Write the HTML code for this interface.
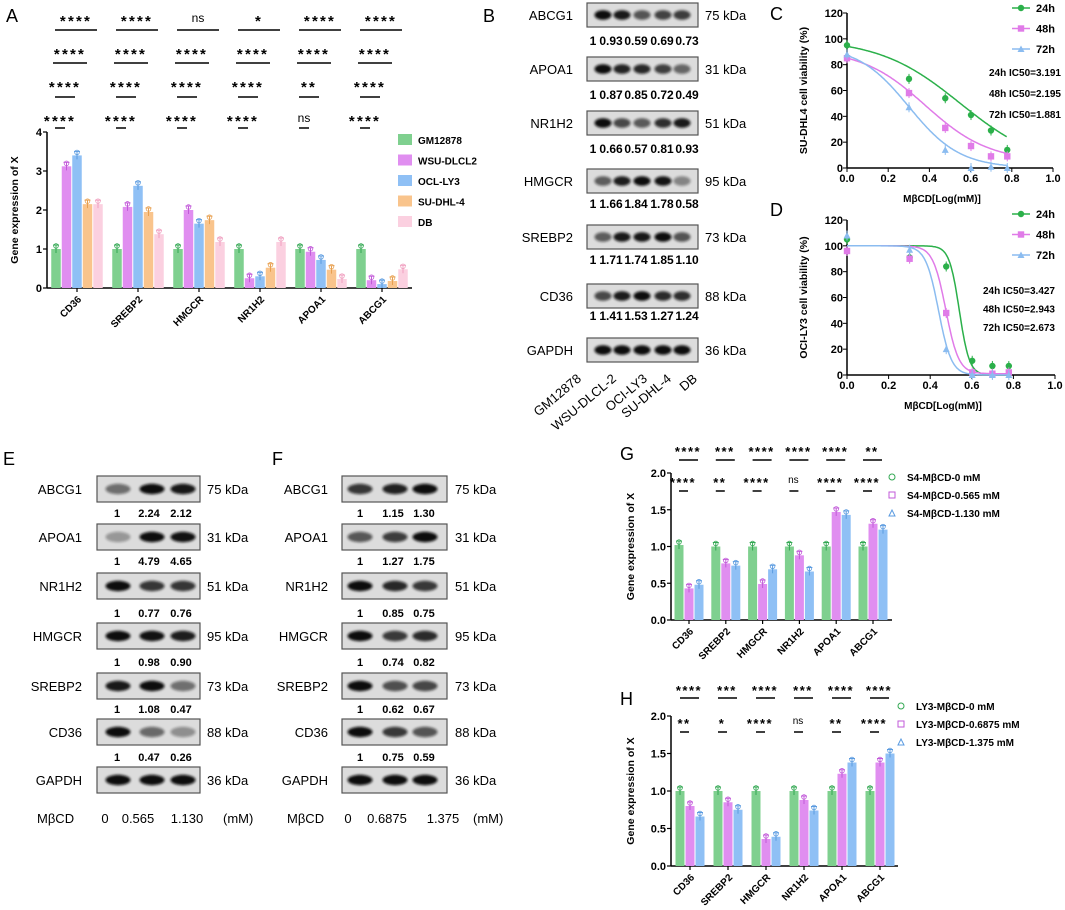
<!DOCTYPE html>
<html><head><meta charset="utf-8">
<style>
html,body{margin:0;padding:0;background:#fff;}
svg{display:block;font-family:"Liberation Sans",Arial,sans-serif;}
</style></head>
<body>
<svg id="fig" width="1065" height="910" viewBox="0 0 1065 910">
<defs><filter id="blur" x="-30%" y="-80%" width="160%" height="260%"><feGaussianBlur stdDeviation="1.4"/></filter></defs>
<g font-size="18">
<text x="6" y="22">A</text>
<text x="483" y="22">B</text>
<text x="770" y="20">C</text>
<text x="770" y="216">D</text>
<text x="3" y="465">E</text>
<text x="272" y="465">F</text>
<text x="620" y="460">G</text>
<text x="620" y="705">H</text>
</g>
</svg>
<script>
const NS="http://www.w3.org/2000/svg";
const svg=document.getElementById('fig');
function mk(tag,attrs,parent,txt){const e=document.createElementNS(NS,tag);for(const k in attrs)e.setAttribute(k,attrs[k]);if(txt!==undefined)e.textContent=txt;(parent||svg).appendChild(e);return e;}

/* ---------- DATA ---------- */
const genes=["CD36","SREBP2","HMGCR","NR1H2","APOA1","ABCG1"];
const aSeries=["GM12878","WSU-DLCL2","OCL-LY3","SU-DHL-4","DB"];
const aGM=[1,1,1,1,1,1];
const aWSU=[3.12,2.08,2.0,0.25,0.93,0.2];
const aOCI=[3.4,2.62,1.65,0.3,0.72,0.1];
const aSU=[2.15,1.95,1.74,0.52,0.47,0.18];
const aDB=[2.15,1.38,1.18,1.18,0.23,0.48];
const aTicks=[0,1,2,3,4];
const aSig1=["****","****","ns","*","****","****"];
const aSig2=["****","****","****","****","****","****"];
const aSig3=["****","****","****","****","**","****"];
const aSig4=["****","****","****","****","ns","****"];

const gSeries=["S4-MβCD-0 mM","S4-MβCD-0.565 mM","S4-MβCD-1.130 mM"];
const g0=[1.02,1,1,1,1,1];
const g1=[0.43,0.77,0.49,0.88,1.47,1.31];
const g2=[0.48,0.74,0.69,0.66,1.43,1.23];
const gSigTop=["****","***","****","****","****","**"];
const gSigLow=["****","**","****","ns","****","****"];

const hSeries=["LY3-MβCD-0 mM","LY3-MβCD-0.6875 mM","LY3-MβCD-1.375 mM"];
const h0=[1,1,1,1,1,1];
const h1=[0.8,0.85,0.36,0.88,1.23,1.38];
const h2=[0.66,0.75,0.39,0.74,1.38,1.5];
const hSigTop=["****","***","****","***","****","****"];
const hSigLow=["**","*","****","ns","**","****"];
const ghTicks=[0,0.5,1,1.5,2];

const doseX=[0,0.301,0.477,0.602,0.699,0.778];
const c24=[95,69,54,41,29,14];
const c48=[85,58,31,17,9,9];
const c72=[88,47,14,0,1,0];
const d24=[105,91,84,11,7,7];
const d48=[96,90,48,2,1,2];
const d72=[108,97,20,0,0,0];
const cIC=["24h IC50=3.191","48h IC50=2.195","72h IC50=1.881"];
const dIC=["24h IC50=3.427","48h IC50=2.943","72h IC50=2.673"];
const cFit=[[100,0,0.55,2.2],[92,5,0.38,2.8],[95,0,0.30,3.5]];
const dFit=[[100,0,0.54,18],[100,1,0.475,14],[100,0,0.44,14]];
const curveTicksX=[0,0.2,0.4,0.6,0.8,1.0];
const curveTicksY=[0,20,40,60,80,100,120];

const blotGenes=["ABCG1","APOA1","NR1H2","HMGCR","SREBP2","CD36","GAPDH"];
const kda=["75 kDa","31 kDa","51 kDa","95 kDa","73 kDa","88 kDa","36 kDa"];
const bVals=[[1,0.93,0.59,0.69,0.73],[1,0.87,0.85,0.72,0.49],[1,0.66,0.57,0.81,0.93],[1,1.66,1.84,1.78,0.58],[1,1.71,1.74,1.85,1.10],[1,1.41,1.53,1.27,1.24],[1,1,1,1,1]];
const bLanes=["GM12878","WSU-DLCL-2","OCI-LY3","SU-DHL-4","DB"];
const eVals=[[1,2.24,2.12],[1,4.79,4.65],[1,0.77,0.76],[1,0.98,0.90],[1,1.08,0.47],[1,0.47,0.26],[1,1,1]];
const fVals=[[1,1.15,1.30],[1,1.27,1.75],[1,0.85,0.75],[1,0.74,0.82],[1,0.62,0.67],[1,0.75,0.59],[1,1,1]];
const eDose=["0","0.565","1.130"];
const fDose=["0","0.6875","1.375"];

const cols=["#7fd08f","#e08ef0","#8fc0f5","#f9c48c","#fbd0e0"];
const dark=["#33a853","#c25ad9","#5b9be0","#e8a050","#f0a0c0"];

/* ---------- BAR CHART ---------- */
function barChart(o){
  const g=mk('g',{});
  
  
  const yS=v=>o.y0-(v/o.ymax)*(o.y0-o.ytop);
  mk('line',{x1:o.x0,y1:o.ytop,x2:o.x0,y2:o.y0,stroke:'#000','stroke-width':1.5},g);
  mk('line',{x1:o.x0,y1:o.y0,x2:o.x1,y2:o.y0,stroke:'#000','stroke-width':1.5},g);
  o.ticks.forEach(t=>{const y=yS(t);mk('line',{x1:o.x0-4,y1:y,x2:o.x0,y2:y,stroke:'#000','stroke-width':1.2},g);
    const tl=mk('text',{x:o.x0-5,y:y+4,'text-anchor':'end','font-size':11,'font-weight':'bold'},g,String(o.fix?t.toFixed(1):t));
    });
  const yt=mk('text',{transform:`translate(${o.titleX},${(o.ytop+o.y0)/2}) rotate(-90)`,'text-anchor':'middle','font-size':10.5,'font-weight':'bold'},g,'Gene expression of X');
  
  const n=o.series.length;
  genes.forEach((gn,i)=>{
    const gx=o.gx0+i*o.gsp;
    o.series.forEach((s,k)=>{
      const v=s[i];const x=gx+k*o.bw-o.bw/2;const y=yS(v);
      const r=mk('rect',{x:x+0.5,y:y,width:o.bw-1,height:o.y0-y,fill:cols[k]},g);
      
      mk('line',{x1:x+o.bw/2,y1:y-4,x2:x+o.bw/2,y2:y+4,stroke:dark[k],'stroke-width':1},g);
      mk('line',{x1:x+o.bw/2-3,y1:y-4,x2:x+o.bw/2+3,y2:y-4,stroke:dark[k],'stroke-width':1},g);
      mk('circle',{cx:x+o.bw/2,cy:y-3,r:2.3,fill:'none',stroke:dark[k],'stroke-width':0.8},g);
    });
    const cx=gx+(n-1)*o.bw/2;
    const xl=mk('text',{transform:`translate(${cx+5},${o.y0+12}) rotate(-45)`,'text-anchor':'end','font-size':10,'font-weight':'bold'},g,gn);
    
    mk('line',{x1:cx,y1:o.y0,x2:cx,y2:o.y0+4,stroke:'#000','stroke-width':1.2},g);
    o.sig.forEach(sr=>{
      const lab=sr.arr[i];const isStar=lab.indexOf('*')>=0;
      const t=mk('text',{x:gx+sr.tc,y:sr.ty+(isStar?4:0),'text-anchor':'middle','font-size':isStar?(sr.fs||15):(sr.fs||15)-3,'font-weight':isStar?'bold':'normal','letter-spacing':isStar?(sr.ls||2.2):0},g,lab);
      
      mk('line',{x1:gx+sr.l1,y1:sr.ly,x2:gx+sr.l2,y2:sr.ly,stroke:'#000','stroke-width':1.5},g);
    });
  });
  o.legend.forEach((L,k)=>{
    const y=o.legY+k*o.legDy;
    if(o.legRect){const r=mk('rect',{x:o.legX,y:y-6,width:14,height:11,fill:cols[k]},g);}
    else if(k===0) mk('circle',{cx:o.legX+4,cy:y,r:3,fill:'none',stroke:dark[0]},g);
    else if(k===1) mk('rect',{x:o.legX+1,y:y-3,width:6,height:6,fill:'none',stroke:dark[1]},g);
    else mk('path',{d:`M${o.legX+1},${y+3}L${o.legX+4},${y-3}L${o.legX+7},${y+3}Z`,fill:'none',stroke:dark[2]},g);
    const t=mk('text',{x:o.legX+o.legTx,y:y+4,'font-size':o.legFs,'font-weight':'bold'},g,L);
    
  });
}
barChart({name:'chart-a',x0:47,x1:412,y0:288,ytop:132,ymax:4,ticks:aTicks,titleX:18,gx0:56,gsp:61,bw:10.5,
  series:[aGM,aWSU,aOCI,aSU,aDB],
  sig:[{arr:aSig1,ty:22,ly:30,tc:20,l1:-1,l2:41},{arr:aSig2,ty:55,ly:63,tc:14,l1:-3,l2:31},{arr:aSig3,ty:88,ly:97,tc:9,l1:-1,l2:19},{arr:aSig4,ty:122,ly:128,tc:4,l1:-1,l2:9}],
  legend:aSeries,legX:398,legY:140,legDy:20.5,legRect:true,legTx:20,legFs:10});
barChart({name:'chart-g',x0:671,x1:892,y0:620,ytop:473,ymax:2,ticks:ghTicks,fix:true,titleX:634,gx0:679,gsp:36.8,bw:10,
  series:[g0,g1,g2],
  sig:[{arr:gSigTop,ty:452,ly:460,tc:9,l1:0,l2:19,fs:13,ls:1.5},{arr:gSigLow,ty:483,ly:491,tc:4,l1:0,l2:9,fs:13,ls:1.5}],
  legend:gSeries,legX:888,legY:477,legDy:18,legRect:false,legTx:19,legFs:10});
barChart({name:'chart-h',x0:671,x1:898,y0:866,ytop:716,ymax:2,ticks:ghTicks,fix:true,titleX:634,gx0:680,gsp:38,bw:10,
  series:[h0,h1,h2],
  sig:[{arr:hSigTop,ty:691,ly:698,tc:9,l1:0,l2:19,fs:13,ls:1.5},{arr:hSigLow,ty:724,ly:732,tc:4,l1:0,l2:9,fs:13,ls:1.5}],
  legend:hSeries,legX:897,legY:706,legDy:18,legRect:false,legTx:19,legFs:10});

/* ---------- DOSE CURVES ---------- */
function curveChart(o){
  const g=mk('g',{});
  
  
  const xS=v=>o.x0+v*(o.x1-o.x0);
  const yS=v=>o.y0-(v/120)*(o.y0-o.ytop);
  mk('line',{x1:o.x0,y1:o.ytop,x2:o.x0,y2:o.y0,stroke:'#000','stroke-width':1.5},g);
  mk('line',{x1:o.x0,y1:o.y0,x2:o.x1,y2:o.y0,stroke:'#000','stroke-width':1.5},g);
  curveTicksX.forEach(t=>{mk('line',{x1:xS(t),y1:o.y0,x2:xS(t),y2:o.y0+4,stroke:'#000'},g);
    const tl=mk('text',{x:xS(t),y:o.y0+14,'text-anchor':'middle','font-size':11,'font-weight':'bold'},g,t.toFixed(1));
    });
  curveTicksY.forEach(t=>{mk('line',{x1:o.x0-4,y1:yS(t),x2:o.x0,y2:yS(t),stroke:'#000'},g);
    const tl=mk('text',{x:o.x0-4,y:yS(t)+4,'text-anchor':'end','font-size':11,'font-weight':'bold'},g,String(t));
    });
  const yt=mk('text',{transform:`translate(${o.x0-40},${(o.ytop+o.y0)/2}) rotate(-90)`,'text-anchor':'middle','font-size':10.5,'font-weight':'bold'},g,o.ytitle);
  
  const xt=mk('text',{x:(o.x0+o.x1)/2-8,y:o.y0+34,'text-anchor':'middle','font-size':10,'font-weight':'bold'},g,'MβCD[Log(mM)]');
  
  const c3=["#2bb04a","#e07be8","#8bbcf0"];
  o.series.forEach((s,k)=>{
    const [top,bot,mid,h]=o.fit[k];let d='';
    for(let x=0;x<=0.78;x+=0.005){const y=bot+(top-bot)/(1+Math.pow(10,(x-mid)*h));d+=(d?'L':'M')+xS(x).toFixed(1)+','+yS(y).toFixed(1);}
    const p=mk('path',{d:d,fill:'none',stroke:c3[k],'stroke-width':1.5},g);
    
    s.forEach((v,i)=>{const x=xS(doseX[i]),y=yS(v);
      mk('line',{x1:x,y1:y-5,x2:x,y2:y+5,stroke:c3[k]},g);
      let m;
      if(k===0) m=mk('circle',{cx:x,cy:y,r:3.2,fill:c3[k]},g);
      else if(k===1) m=mk('rect',{x:x-3.2,y:y-3.2,width:6.4,height:6.4,fill:c3[k]},g);
      else m=mk('path',{d:`M${x-3.5},${y+3}L${x},${y-3.5}L${x+3.5},${y+3}Z`,fill:c3[k]},g);
      });
    const ly=o.legY+k*20.5;
    mk('line',{x1:1012,y1:ly,x2:1030,y2:ly,stroke:c3[k],'stroke-width':1.5},g);
    if(k===0) mk('circle',{cx:1021,cy:ly,r:3.2,fill:c3[k]},g);
    else if(k===1) mk('rect',{x:1017.8,y:ly-3.2,width:6.4,height:6.4,fill:c3[k]},g);
    else mk('path',{d:`M1017.5,${ly+3}L1021,${ly-3.5}L1024.5,${ly+3}Z`,fill:c3[k]},g);
    const lt=mk('text',{x:1036,y:ly+4,'font-size':11,'font-weight':'bold'},g,['24h','48h','72h'][k]);
    
    const it=mk('text',{x:o.icX,y:o.icY+k*o.icDy,'text-anchor':'end','font-size':10,'font-weight':'bold'},g,o.ic[k]);
    
  });
}
curveChart({name:'chart-c',x0:847,x1:1053,y0:168,ytop:13,ytitle:'SU-DHL4 cell viability (%)',series:[c24,c48,c72],fit:cFit,legY:8,ic:cIC,icX:1061,icY:76,icDy:21});
curveChart({name:'chart-d',x0:847,x1:1055,y0:375,ytop:220,ytitle:'OCI-LY3 cell viability (%)',series:[d24,d48,d72],fit:dFit,legY:214,ic:dIC,icX:1055,icY:294,icDy:18.5});

/* ---------- BLOTS ---------- */
function blot(o){
  const g=mk('g',{});
  
  
  blotGenes.forEach((gn,r)=>{
    const yc=o.rows[r];
    const lt=mk('text',{x:o.labX,y:yc+5,'text-anchor':'end','font-size':13},g,gn);
    
    const box=mk('rect',{x:o.bx0,y:yc-o.bh/2,width:o.bx1-o.bx0,height:o.bh,fill:'#dcdcdc',stroke:'#555','stroke-width':1.2},g);
    
    const vals=o.vals[r];const mx=Math.max(...vals);
    o.lanes.forEach((lx,i)=>{
      const op=0.15+0.85*Math.min(1,vals[i]/mx);
      mk('ellipse',{cx:lx,cy:yc,rx:o.lw/2,ry:o.bh*0.2,fill:'#111',opacity:op.toFixed(2),filter:'url(#blur)'},g);
    });
    const kt=mk('text',{x:o.kX,y:yc+5,'font-size':13},g,kda[r]);
    
    if(r<6){vals.forEach((v,i)=>{
      const t=mk('text',{x:o.numX[i],y:o.nums[r],'text-anchor':'middle','font-size':o.nfs||11,'font-weight':'bold'},g,String(i===0?'1':v.toFixed(2)));
      });}
  });
}
blot({name:'blot-b',labX:573,bx0:587,bx1:698,bh:24,rows:[15,69,123,181,237,296,350],nums:[45,99,153,208,264,320],lanes:[603,622,642,663,682],lw:17,numX:[593,611,636,662,687],vals:bVals,kX:705,nfs:12});
const bLabX=[582,617,648,672,698];
bLanes.forEach((l,i)=>{
  const t=mk('text',{transform:`translate(${bLabX[i]},380) rotate(-40)`,'text-anchor':'end','font-size':13},svg,l);
  });
const eRows=[489,537,586,636,686,732,780];
const eNums=[517,565,617,666,713,761];
blot({name:'blot-e',labX:82,bx0:97,bx1:200,bh:26,rows:eRows,nums:eNums,lanes:[118,152,183],lw:25,numX:[117,149,181],vals:eVals,kX:207});
blot({name:'blot-f',labX:328,bx0:342,bx1:447,bh:26,rows:eRows,nums:eNums,lanes:[360,395,425],lw:25,numX:[360,393,424],vals:fVals,kX:455});
function doseRow(x0,xs,vals,xm){
  const t=mk('text',{x:x0,y:823,'font-size':13},svg,'MβCD');
  vals.forEach((v,i)=>{const d=mk('text',{x:xs[i],y:823,'text-anchor':'middle','font-size':13},svg,v);});
  const u=mk('text',{x:xm,y:823,'font-size':13},svg,'(mM)');
}
doseRow(37,[105,138,187],eDose,223);
doseRow(287,[348,387,443],fDose,473);
</script>
</body></html>
